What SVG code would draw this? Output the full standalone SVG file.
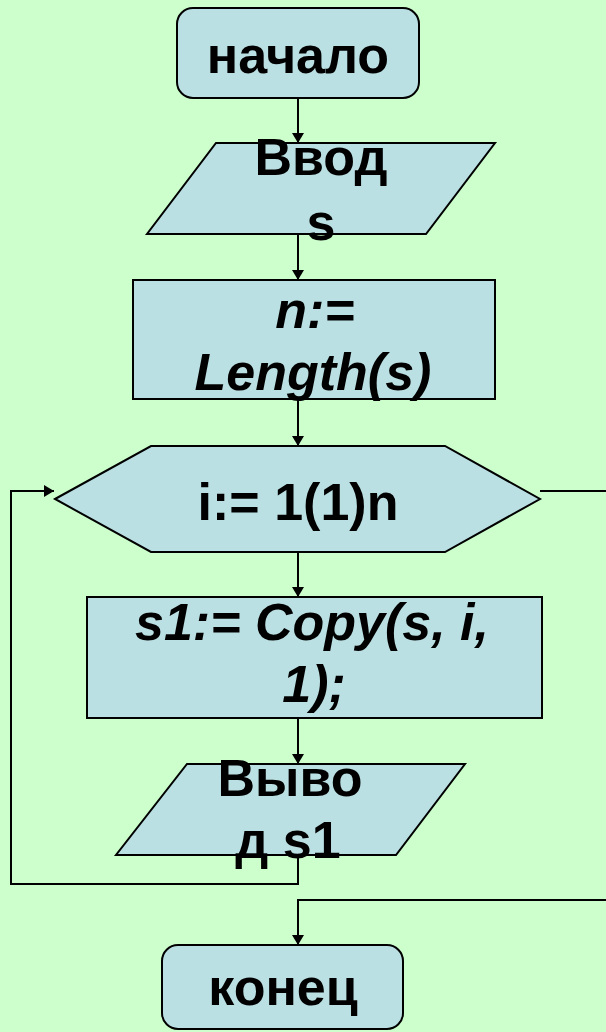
<svg xmlns="http://www.w3.org/2000/svg" width="606" height="1032" viewBox="0 0 606 1032">
<defs>
<marker id="arr" viewBox="0 0 10 12" refX="10" refY="6" markerWidth="10" markerHeight="12" markerUnits="userSpaceOnUse" orient="auto">
<path d="M0,0 L10,6 L0,12 Z" fill="#000"/>
</marker>
<style>
.shape{fill:#BBE0E3;stroke:#000;stroke-width:2}
.t{font-family:"Liberation Sans",Arial,sans-serif;font-weight:bold;font-size:52px;fill:#000;text-anchor:middle}
.it{font-style:italic}
.c{fill:none;stroke:#000;stroke-width:2}
</style>
</defs>
<rect x="0" y="0" width="606" height="1032" fill="#CCFFCC"/>
<g id="connectors">
<line class="c" x1="298" y1="98" x2="298" y2="143" marker-end="url(#arr)"/>
<line class="c" x1="298" y1="234" x2="298" y2="280" marker-end="url(#arr)"/>
<line class="c" x1="298" y1="399" x2="298" y2="446" marker-end="url(#arr)"/>
<line class="c" x1="298" y1="552" x2="298" y2="597" marker-end="url(#arr)"/>
<line class="c" x1="298" y1="718" x2="298" y2="764" marker-end="url(#arr)"/>
<polyline class="c" points="298,855 298,884 11,884 11,491 54,491" marker-end="url(#arr)"/>
<line class="c" x1="540" y1="491" x2="606" y2="491"/>
<polyline class="c" points="606,900 298,900 298,945" marker-end="url(#arr)"/>
</g>
<g id="start">
<rect class="shape" x="177" y="8" width="242" height="90" rx="16"/>
<text class="t" x="298" y="73">начало</text>
</g>
<g id="input">
<polygon class="shape" points="216,143 495,143 426,234 147,234"/>
<text class="t" x="321" y="175">Ввод</text>
<text class="t" x="321" y="240">s</text>
</g>
<g id="length">
<rect class="shape" x="133" y="280" width="362" height="119"/>
<text class="t it" x="315" y="328">n:=</text>
<text class="t it" x="313" y="390">Length(s)</text>
</g>
<g id="loop">
<polygon class="shape" points="55,499 151,446 445,446 540,499 445,552 151,552"/>
<text class="t" x="298" y="520">i:= 1(1)n</text>
</g>
<g id="copy">
<rect class="shape" x="87" y="597" width="455" height="121"/>
<text class="t it" x="312" y="640">s1:= Copy(s, i,</text>
<text class="t it" x="314" y="702">1);</text>
</g>
<g id="output">
<polygon class="shape" points="187,764 465,764 396,855 116,855"/>
<text class="t" x="290" y="796">Выво</text>
<text class="t" x="288" y="858">д s1</text>
</g>
<g id="end">
<rect class="shape" x="162" y="945" width="241" height="84" rx="16"/>
<text class="t" x="283" y="1005">конец</text>
</g>
</svg>
